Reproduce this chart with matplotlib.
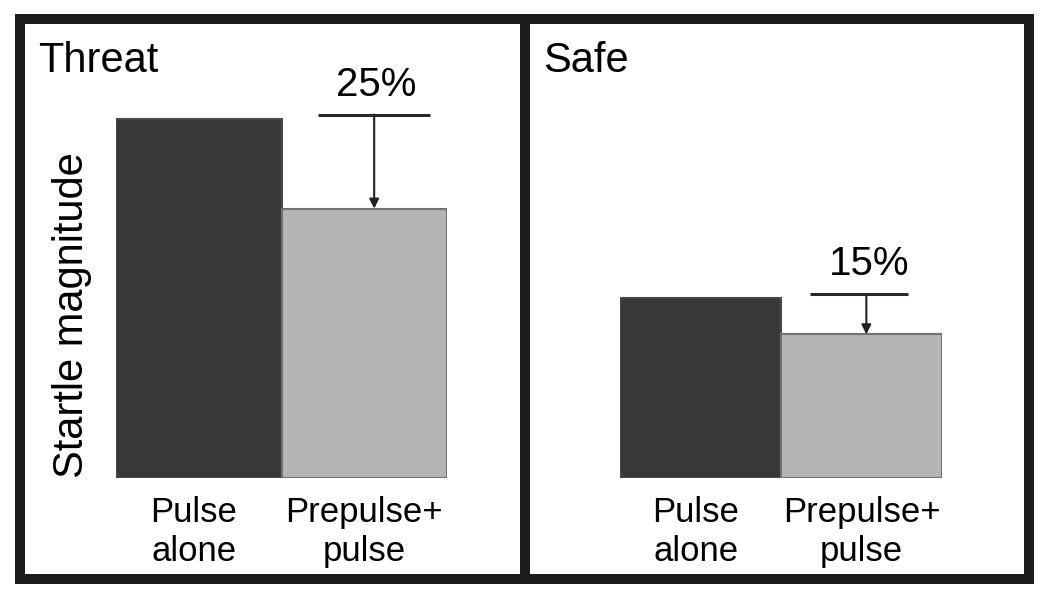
import matplotlib.pyplot as plt

#fonte parecida com helvetica
plt.rcParams['font.family'] = ['Liberation Sans', 'DejaVu Sans']

#dados do grafico
panels     = ['Threat', 'Safe']
categories = ['Pulse\nalone', 'Prepulse+\npulse']
threat_values = [100, 75]
safe_values   = [50, 40]
reductions    = ['25%', '15%']

W, H = 1050, 599
dark, dark_edge   = '#383838', '#4a4a4a'
light, light_edge = '#b5b5b5', '#727272'
frame_color = '#1c1c1c'


def px_rect(x0, y0, x1, y1):
    #converte pixels (origem no topo) para coordenadas da figura
    return [x0 / W, 1 - y1 / H, (x1 - x0) / W, (y1 - y0) / H]


fig = plt.figure(figsize=(W / 100, H / 100), dpi=100)

#molduras dos paineis
for x0, x1 in [(20, 524.5), (524.5, 1029)]:
    fr = fig.add_axes(px_rect(x0, 19, x1, 579))
    fr.set_xticks([])
    fr.set_yticks([])
    for s in fr.spines.values():
        s.set_linewidth(7.2)
        s.set_color(frame_color)

#eixos internos com as barras
inner = [px_rect(116, 83, 447, 478), px_rect(620, 83, 942, 478)]
title_x = [38, 543]
arrow_dx = [0.06, 0.03]
line_span = [(-0.28, 0.40), (-0.32, 0.29)]

for i, vals in enumerate([threat_values, safe_values]):
    ax = fig.add_axes(inner[i])
    ax.patch.set_alpha(0)
    ax.bar([0, 1], vals, width=1, color=[dark, light],
           edgecolor=[dark_edge, light_edge], linewidth=1.5)
    ax.set_xlim(-0.5, 1.5)
    ax.set_ylim(0, 110)
    for s in ax.spines.values():
        s.set_visible(False)
    ax.set_yticks([])
    ax.set_xticks([-0.03, 1], categories)
    ax.tick_params(axis='x', length=0, pad=13, labelsize=25)
    for lb in ax.get_xticklabels():
        lb.set_linespacing(1.22)

    #linha e seta da reducao
    hi, lo = vals
    y_line = hi + 1.2
    ax.hlines(y_line, 1 + line_span[i][0], 1 + line_span[i][1],
              color='#2a2a2a', lw=2.2, clip_on=False)
    ax.annotate('', xy=(1 + arrow_dx[i], lo), xytext=(1 + arrow_dx[i], y_line),
                arrowprops=dict(arrowstyle='-|>', mutation_scale=14, lw=1.5,
                                color='#222222', shrinkA=0, shrinkB=0),
                annotation_clip=False)
    ax.text(1 + arrow_dx[i] + 0.015, hi + 6.5, reductions[i], fontsize=29,
            ha='center', va='baseline', clip_on=False)

    fig.text(title_x[i] / W, 1 - 72 / H, panels[i], fontsize=30,
             ha='left', va='baseline')

fig.text(72 / W, 1 - 315 / H, 'Startle magnitude', rotation=90,
         fontsize=30, ha='center', va='center')

plt.savefig('out.png', dpi=100, facecolor='white')
